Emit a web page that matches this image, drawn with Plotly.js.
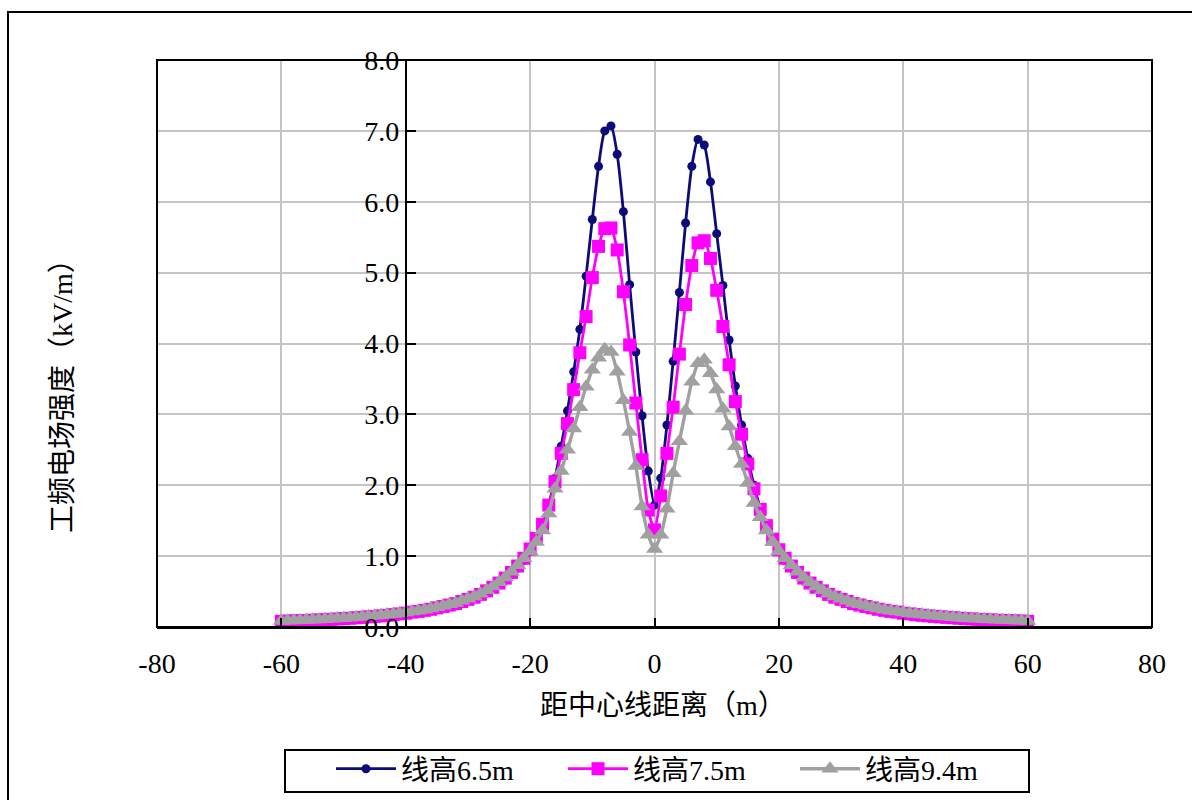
<!DOCTYPE html>
<html>
<head>
<meta charset="utf-8">
<script src="https://cdn.plot.ly/plotly-3.0.1.min.js"></script>
<style>html,body{margin:0;padding:0;background:#fff;}#chart{width:1192px;height:800px;}</style>
</head>
<body>
<div id="chart"></div>
<script>
// distance from centre line (m)
const distance = Array.from({length: 121}, (_, i) => i - 60);

const seriesNames = ['线高6.5m', '线高7.5m', '线高9.4m'];

// 线高6.5m
const field65 = [
  0.072,0.075,0.078,0.081,0.084,0.087,0.091,0.095,0.099,0.103,
  0.108,0.113,0.119,0.125,0.131,0.138,0.145,0.152,0.16,0.17,
  0.18,0.195,0.205,0.22,0.235,0.25,0.27,0.29,0.31,0.34,
  0.37,0.4,0.44,0.48,0.53,0.59,0.66,0.74,0.83,0.94,
  1.07,1.24,1.45,1.73,2.1,2.55,3.05,3.6,4.2,4.95,5.75,6.5,7.0,7.07,6.67,5.86,4.83,3.88,2.98,2.2,1.72,
  2.1,2.85,3.75,4.72,5.7,6.5,6.88,6.8,6.28,5.55,4.82,4.05,3.4,2.85,2.38,2.0,1.68,1.43,1.23,1.07,
  0.94,0.83,0.74,0.66,0.59,0.53,0.48,0.44,0.4,0.37,
  0.34,0.31,0.29,0.27,0.25,0.235,0.22,0.205,0.195,0.18,
  0.17,0.16,0.152,0.145,0.138,0.131,0.125,0.119,0.113,0.108,
  0.103,0.099,0.095,0.091,0.087,0.084,0.081,0.078,0.075,0.072
];

// 线高7.5m
const field75 = [
  0.08,0.083,0.086,0.089,0.092,0.096,0.1,0.104,0.108,0.113,
  0.118,0.124,0.13,0.136,0.143,0.15,0.157,0.165,0.175,0.185,
  0.195,0.21,0.22,0.235,0.25,0.27,0.29,0.31,0.33,0.36,
  0.39,0.42,0.46,0.51,0.56,0.62,0.69,0.77,0.86,0.97,
  1.1,1.25,1.45,1.72,2.05,2.45,2.87,3.35,3.87,4.38,4.93,5.37,5.62,5.63,5.32,4.73,3.98,3.16,2.36,1.65,1.37,
  1.85,2.45,3.1,3.85,4.55,5.1,5.42,5.45,5.2,4.75,4.24,3.7,3.18,2.72,2.3,1.95,1.66,1.43,1.24,1.09,
  0.97,0.86,0.77,0.69,0.62,0.56,0.51,0.46,0.42,0.39,
  0.36,0.33,0.31,0.29,0.27,0.25,0.235,0.22,0.21,0.195,
  0.185,0.175,0.165,0.157,0.15,0.143,0.136,0.13,0.124,0.118,
  0.113,0.108,0.104,0.1,0.096,0.092,0.089,0.086,0.083,0.08
];

// 线高9.4m
const field94 = [
  0.085,0.088,0.091,0.094,0.098,0.102,0.106,0.11,0.115,0.12,
  0.125,0.131,0.137,0.144,0.151,0.158,0.166,0.175,0.185,0.195,
  0.205,0.22,0.23,0.245,0.26,0.28,0.3,0.32,0.34,0.37,
  0.4,0.43,0.47,0.52,0.57,0.63,0.7,0.78,0.87,0.97,
  1.07,1.2,1.36,1.6,1.95,2.2,2.5,2.8,3.1,3.39,3.63,3.8,3.92,3.88,3.6,3.2,2.75,2.27,1.7,1.3,1.1,
  1.3,1.67,2.17,2.62,3.05,3.46,3.72,3.77,3.58,3.35,3.08,2.83,2.55,2.3,2.03,1.75,1.55,1.36,1.2,1.07,
  0.97,0.87,0.78,0.7,0.63,0.57,0.52,0.47,0.43,0.4,
  0.37,0.34,0.32,0.3,0.28,0.26,0.245,0.23,0.22,0.205,
  0.195,0.185,0.175,0.166,0.158,0.151,0.144,0.137,0.131,0.125,
  0.12,0.115,0.11,0.106,0.102,0.098,0.094,0.091,0.088,0.085
];

const xTickVals = [-80, -60, -40, -20, 0, 20, 40, 60, 80];
const yTickVals = [0, 1, 2, 3, 4, 5, 6, 7, 8];
const xTitle = '距中心线距离（m）';
const yTitle = '工频电场强度（kV/m）';

const FONT = '"Liberation Serif", "Times New Roman", "Noto Sans CJK SC", serif';
const FS = 28;

const traces = [
  {x: distance, y: field65, name: seriesNames[0], type: 'scatter', mode: 'lines+markers',
   line: {color: '#0c0c78', width: 2.8, shape: 'spline', smoothing: 0.6},
   marker: {symbol: 'circle', size: 9, color: '#0c0c78'}},
  {x: distance, y: field75, name: seriesNames[1], type: 'scatter', mode: 'lines+markers',
   line: {color: '#ff00ff', width: 2.8, shape: 'spline', smoothing: 0.6},
   marker: {symbol: 'square', size: 13, color: '#ff00ff'}},
  {x: distance, y: field94, name: seriesNames[2], type: 'scatter', mode: 'lines+markers',
   line: {color: '#a0a0a0', width: 3.4, shape: 'spline', smoothing: 0.6},
   marker: {symbol: 'triangle-up', size: 15, color: '#a0a0a0'}}
];

const L = 157, R = 1152, T = 60, B = 627;
const W = R - L, H = B - T;
const px2x = p => (p - L) / W;
const py2y = p => (B - p) / H;

const layout = {
  width: 1192, height: 800,
  margin: {l: L, r: 1192 - R, t: T, b: 800 - B},
  paper_bgcolor: '#ffffff', plot_bgcolor: '#ffffff',
  font: {family: FONT, size: FS, color: '#000'},
  showlegend: true,
  legend: {
    orientation: 'h', xref: 'container', yref: 'container',
    x: 331 / 1192, y: 1 - 744 / 800, xanchor: 'left', yanchor: 'top',
    borderwidth: 0, bgcolor: 'rgba(0,0,0,0)',
    font: {family: FONT, size: FS, color: '#000'},
    entrywidth: 157, itemwidth: 60, traceorder: 'normal'
  },
  xaxis: {
    range: [-80, 80], tickvals: xTickVals, ticktext: xTickVals.map(String),
    showgrid: true, gridcolor: '#c4c4c4', gridwidth: 2,
    zeroline: false, showline: true, linecolor: '#000', linewidth: 2,
    ticks: 'inside', ticklen: 9, tickwidth: 2, tickcolor: '#000',
    tickfont: {family: FONT, size: FS, color: '#000'},
    ticklabelstandoff: 10,
    automargin: false, fixedrange: true
  },
  yaxis: {
    range: [0, 8], tickvals: yTickVals, tickformat: '.1f',
    anchor: 'free', position: 0.25,
    showgrid: true, gridcolor: '#c4c4c4', gridwidth: 2,
    zeroline: false, showline: true, linecolor: '#000', linewidth: 2,
    ticks: 'inside', ticklen: 9, tickwidth: 2, tickcolor: '#000',
    tickfont: {family: FONT, size: FS, color: '#000'},
    automargin: false, fixedrange: true
  },
  shapes: [
    {type: 'rect', xref: 'paper', yref: 'paper', x0: 0, x1: 1, y0: 0, y1: 1,
     line: {color: '#000', width: 2}, fillcolor: 'rgba(0,0,0,0)', layer: 'above'},
    {type: 'rect', xref: 'paper', yref: 'paper', x0: px2x(8), x1: px2x(1210), y0: py2y(12), y1: py2y(820),
     line: {color: '#000', width: 2}, fillcolor: 'rgba(0,0,0,0)', layer: 'above'},
    {type: 'rect', xref: 'paper', yref: 'paper', x0: px2x(285), x1: px2x(1029), y0: py2y(750), y1: py2y(792),
     line: {color: '#000', width: 2}, fillcolor: 'rgba(0,0,0,0)', layer: 'above'}
  ],
  annotations: [
    {text: xTitle, xref: 'paper', yref: 'paper', x: px2x(663), y: py2y(705), xanchor: 'center', yanchor: 'middle',
     showarrow: false, font: {family: FONT, size: FS, color: '#000'}},
    {text: yTitle, xref: 'paper', yref: 'paper', x: px2x(62), y: py2y(389), xanchor: 'center', yanchor: 'middle',
     textangle: -90, showarrow: false, font: {family: FONT, size: FS, color: '#000'}}
  ]
};

Plotly.newPlot('chart', traces, layout, {staticPlot: true, displayModeBar: false});
</script>
</body>
</html>
